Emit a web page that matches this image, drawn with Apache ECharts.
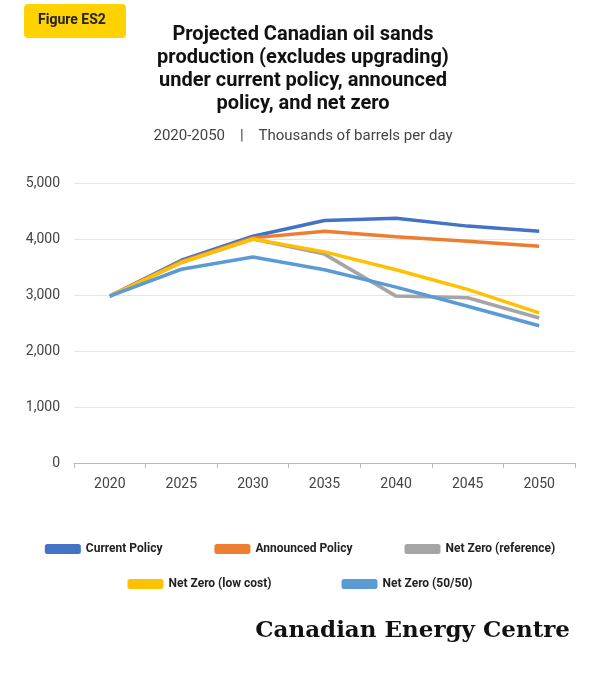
<!DOCTYPE html>
<html><head><meta charset="utf-8">
<script src="https://cdn.jsdelivr.net/npm/echarts@6/dist/echarts.min.js"></script>
<style>html,body{margin:0;background:#fff}#c{width:600px;height:675px}</style>
</head><body><div id="c"></div>
<script>
var years = ['2020', '2025', '2030', '2035', '2040', '2045', '2050'];
var currentPolicy = [2980, 3620, 4050, 4330, 4370, 4230, 4140];
var announcedPolicy = [2980, 3600, 4020, 4140, 4040, 3960, 3870];
var netZeroRef = [2980, 3580, 4000, 3730, 2980, 2950, 2590];
var netZeroLow = [2980, 3580, 4000, 3770, 3450, 3100, 2680];
var netZero5050 = [2980, 3460, 3680, 3450, 3140, 2800, 2450];

var colors = ['#4472c4', '#ed7d31', '#a5a5a5', '#ffc000', '#5b9bd5'];
var names = ['Current Policy', 'Announced Policy', 'Net Zero (reference)', 'Net Zero (low cost)', 'Net Zero (50/50)'];
var values = [currentPolicy, announcedPolicy, netZeroRef, netZeroLow, netZero5050];

var series = names.map(function(n, i) {
	return {
		name: n, type: 'line', data: values[i], symbol: 'none',
		lineStyle: {width: 3.5, color: colors[i]}, itemStyle: {color: colors[i]}
	};
});

var chart = echarts.init(document.getElementById('c'));
chart.setOption({
	animation: false,
	textStyle: {fontFamily: 'Roboto'},
	title: [{
		text: 'Projected Canadian oil sands\nproduction (excludes upgrading)\nunder current policy, announced\npolicy, and net zero',
		left: 298, top: 18, textAlign: 'center',
		textStyle: {fontSize: 20, fontWeight: 'bold', lineHeight: 23, color: '#111'}
	}, {
		text: '2020-2050    |    Thousands of barrels per day',
		left: 298, top: 124, textAlign: 'center',
		textStyle: {fontSize: 15, fontWeight: 'normal', color: '#444'}
	}],
	graphic: [
		{type: 'rect', shape: {x: 24, y: 4, width: 102, height: 34, r: 4}, style: {fill: '#ffd200'}},
		{type: 'text', left: 38, top: 13, style: {text: 'Figure ES2', font: 'bold 14px Roboto', fill: '#222'}},
		{type: 'text', right: 30, top: 620, style: {text: 'Canadian Energy Centre', font: 'bold 23px "DejaVu Serif"', fill: '#111'}}
	],
	legend: [{
		data: names.slice(0, 3), top: 538, left: 'center', itemGap: 52, itemWidth: 36, itemHeight: 10,
		icon: 'roundRect', textStyle: {fontSize: 12, fontWeight: 'bold', color: '#222'}
	}, {
		data: names.slice(3), top: 573, left: 'center', itemGap: 70, itemWidth: 36, itemHeight: 10,
		icon: 'roundRect', textStyle: {fontSize: 12, fontWeight: 'bold', color: '#222'}
	}],
	grid: {left: 74, right: 25, top: 183, bottom: 212},
	xAxis: {
		type: 'category', data: years, boundaryGap: true,
		axisLine: {lineStyle: {color: '#bbb'}},
		axisTick: {show: true, alignWithLabel: false, lineStyle: {color: '#bbb'}},
		axisLabel: {fontSize: 14, color: '#444', margin: 14}
	},
	yAxis: {
		type: 'value', min: 0, max: 5000, interval: 1000,
		axisLabel: {fontSize: 14, color: '#444', margin: 14,
			formatter: function(v) { return v.toLocaleString('en-US'); }},
		splitLine: {lineStyle: {color: '#e6e6e6'}}
	},
	series: series
});
</script></body></html>
